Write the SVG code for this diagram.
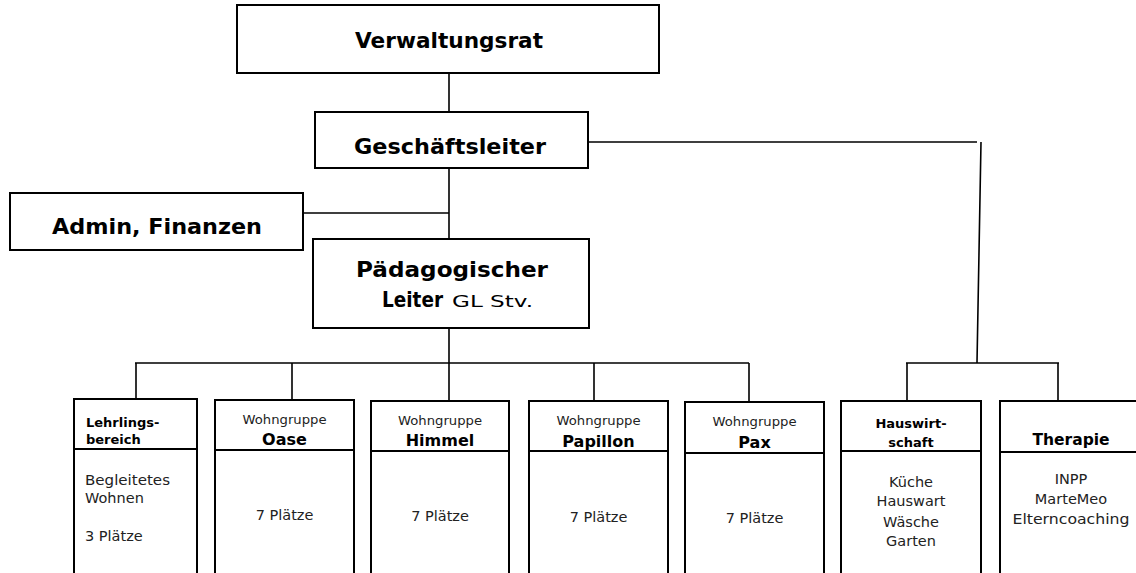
<svg xmlns="http://www.w3.org/2000/svg" width="1136" height="573" viewBox="0 0 1136 573">
<style>
.box{fill:#fff;stroke:#000;stroke-width:2}
.hl{stroke:#000;stroke-width:2}
.con{fill:none;stroke:#000;stroke-width:1.6}
text{font-family:"DejaVu Sans","Liberation Sans",sans-serif;fill:#000}
.b{font-weight:bold}
.big{font-size:21px}
.mid{font-size:16px}
.sm{font-size:12px;fill:#222}
.nm{font-size:14.5px;fill:#222}
.c{text-anchor:middle}
</style>
<rect width="1136" height="573" fill="#fff"/>
<g id="connectors">
<path class="con" d="M449 73V112M449 168V239M449 328V363M303 213H449M588 142H977M981 142L977 363M135 363H749M136 363V399M292 363V400M449 363V401M594 363V401M749 363V402M906 363H1059M907 363V401M1058 363V401"/>
</g>
<g id="verwaltungsrat">
<rect class="box" x="237" y="5" width="422" height="68"/>
<text class="b big c" x="449" y="48" textLength="188" lengthAdjust="spacingAndGlyphs">Verwaltungsrat</text>
</g>
<g id="geschaeftsleiter">
<rect class="box" x="315" y="112" width="273" height="56"/>
<text class="b big c" x="450" y="154" textLength="192" lengthAdjust="spacingAndGlyphs">Geschäftsleiter</text>
</g>
<g id="admin">
<rect class="box" x="10" y="193" width="293" height="57"/>
<text class="b big" x="52" y="234" textLength="210" lengthAdjust="spacingAndGlyphs">Admin, Finanzen</text>
</g>
<g id="paed">
<rect class="box" x="313" y="239" width="276" height="89"/>
<text class="b big c" x="452" y="277" textLength="192" lengthAdjust="spacingAndGlyphs">Pädagogischer</text>
<text class="b big" x="382" y="307" textLength="61" lengthAdjust="spacingAndGlyphs">Leiter</text>
<text x="452" y="307" style="font-size:15px" textLength="81" lengthAdjust="spacingAndGlyphs">GL Stv.</text>
</g>
<g id="lehrling">
<rect class="box" x="74" y="399" width="123" height="190"/>
<line class="hl" x1="74" y1="449" x2="197" y2="449"/>
<text class="b" style="font-size:13px" x="86" y="427">Lehrlings-</text>
<text class="b" style="font-size:13px" x="86" y="444">bereich</text>
<text class="nm" x="85" y="485" textLength="85" lengthAdjust="spacingAndGlyphs">Begleitetes</text>
<text class="nm" x="85" y="503">Wohnen</text>
<text class="nm" x="85" y="541">3 Plätze</text>
</g>
<g id="oase">
<rect class="box" x="215" y="400" width="139" height="190"/>
<line class="hl" x1="215" y1="450" x2="354" y2="450"/>
<text class="sm c" x="284.5" y="424" textLength="84" lengthAdjust="spacingAndGlyphs">Wohngruppe</text>
<text class="b mid c" x="284.5" y="445">Oase</text>
<text class="nm c" x="284.5" y="520">7 Plätze</text>
</g>
<g id="himmel">
<rect class="box" x="371" y="401" width="138" height="190"/>
<line class="hl" x1="371" y1="451" x2="509" y2="451"/>
<text class="sm c" x="440" y="425" textLength="84" lengthAdjust="spacingAndGlyphs">Wohngruppe</text>
<text class="b mid c" x="440" y="446">Himmel</text>
<text class="nm c" x="440" y="521">7 Plätze</text>
</g>
<g id="papillon">
<rect class="box" x="529" y="401" width="139" height="190"/>
<line class="hl" x1="529" y1="451" x2="668" y2="451"/>
<text class="sm c" x="598.5" y="425" textLength="84" lengthAdjust="spacingAndGlyphs">Wohngruppe</text>
<text class="b mid c" x="598.5" y="447">Papillon</text>
<text class="nm c" x="598.5" y="522">7 Plätze</text>
</g>
<g id="pax">
<rect class="box" x="685" y="402" width="139" height="190"/>
<line class="hl" x1="685" y1="453" x2="824" y2="453"/>
<text class="sm c" x="754.5" y="426" textLength="84" lengthAdjust="spacingAndGlyphs">Wohngruppe</text>
<text class="b mid c" x="754.5" y="448">Pax</text>
<text class="nm c" x="754.5" y="523">7 Plätze</text>
</g>
<g id="hauswirtschaft">
<rect class="box" x="841" y="401" width="140" height="190"/>
<line class="hl" x1="841" y1="451" x2="981" y2="451"/>
<text class="b c" style="font-size:13px" x="911" y="428">Hauswirt-</text>
<text class="b c" style="font-size:13px" x="911" y="447">schaft</text>
<text class="nm c" x="911" y="487">Küche</text>
<text class="nm c" x="911" y="506">Hauswart</text>
<text class="nm c" x="911" y="527">Wäsche</text>
<text class="nm c" x="911" y="546">Garten</text>
</g>
<g id="therapie">
<rect class="box" x="1000" y="401" width="142" height="190"/>
<line class="hl" x1="1000" y1="452" x2="1142" y2="452"/>
<text class="b c" style="font-size:15.5px" x="1071" y="445">Therapie</text>
<text class="nm c" x="1071" y="484">INPP</text>
<text class="nm c" x="1071" y="504">MarteMeo</text>
<text class="nm c" x="1071" y="524" textLength="117" lengthAdjust="spacingAndGlyphs">Elterncoaching</text>
</g>
</svg>
